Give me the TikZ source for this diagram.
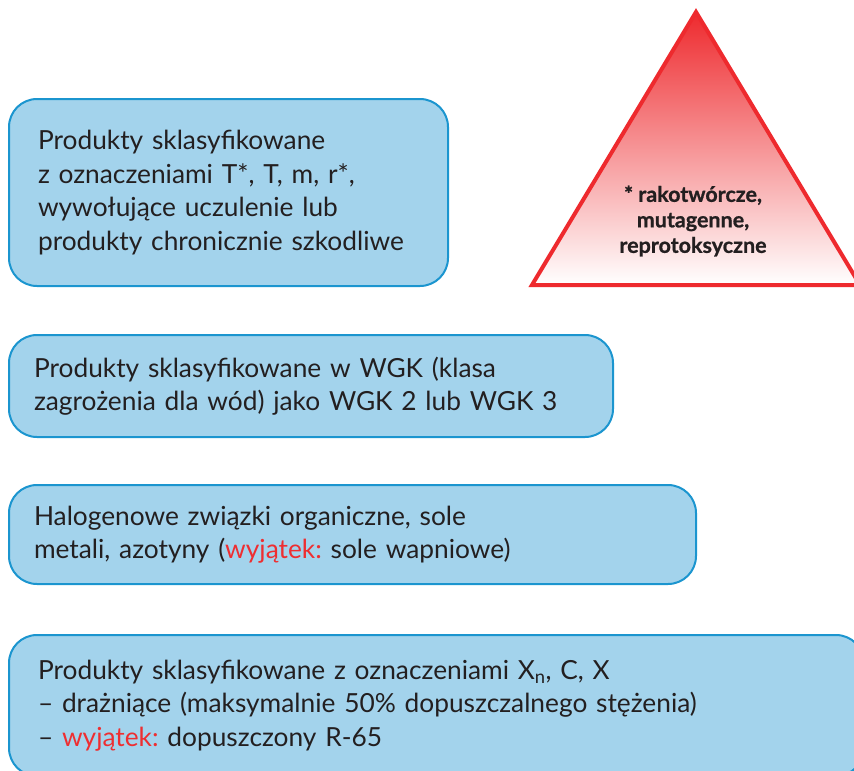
\documentclass[tikz,border=0pt]{standalone}
\usepackage{fontspec}
\setmainfont{Lato}
\frenchspacing
\definecolor{boxfill}{HTML}{A3D3EC}
\definecolor{boxline}{HTML}{1B95CF}
\definecolor{txt}{HTML}{231F20}
\definecolor{redtxt}{HTML}{EE2E31}
\definecolor{trired}{HTML}{EE2A2E}
\newcommand{\redw}[1]{\textcolor{redtxt}{#1}}
\begin{document}
\begin{tikzpicture}[x=1pt,y=1pt,
  box/.style={draw=boxline, line width=2pt, fill=boxfill, rounded corners=28pt,
    anchor=north west, align=left, text=txt,
    font=\fontsize{26.3}{33.5}\selectfont, inner ysep=0pt},
]
\useasboundingbox (0,0) rectangle (854,-771);
\node[box, minimum width=439pt, minimum height=187pt, text width=381pt, inner xsep=29pt] (b1) at (8,-98)
  {Produkty sklasyfikowane\\z oznaczeniami T*, T, m, r*,\\wywołujące uczulenie lub\\produkty chronicznie szkodliwe};
\node[box, minimum width=604pt, minimum height=102pt, text width=554pt, inner xsep=25pt] (b2) at (8,-334)
  {Produkty sklasyfikowane w WGK (klasa\\zagrożenia dla wód) jako WGK 2 lub WGK 3};
\node[box, minimum width=687pt, minimum height=99pt, text width=637pt, inner xsep=25pt] (b3) at (8,-484)
  {Halogenowe związki organiczne, sole\\metali, azotyny (\redw{wyjątek:} sole wapniowe)};
\node[box, minimum width=855pt, minimum height=141pt, text width=797pt, inner xsep=29pt] (b4) at (8,-634)
  {Produkty sklasyfikowane z oznaczeniami X\textsubscript{n}, C, X\\– drażniące (maksymalnie 50\% dopuszczalnego stężenia)\\– \redw{wyjątek:} dopuszczony R-65};
\coordinate (tA) at (696,-12);
\coordinate (tB) at (532,-285);
\coordinate (tC) at (860,-285);
\shade[top color=trired, middle color=trired!55!white, bottom color=white] (tA) -- (tB) -- (tC) -- cycle;
\draw[trired, line width=4pt, line join=miter] (tA) -- (tB) -- (tC) -- cycle;
\node[font=\bfseries\addfontfeatures{FakeBold=0.8}\fontsize{21.5}{25.5}\selectfont, text=txt, align=center] (tt) at (693,-221)
  {* rakotwórcze,\\mutagenne,\\reprotoksyczne};
\end{tikzpicture}
\end{document}
